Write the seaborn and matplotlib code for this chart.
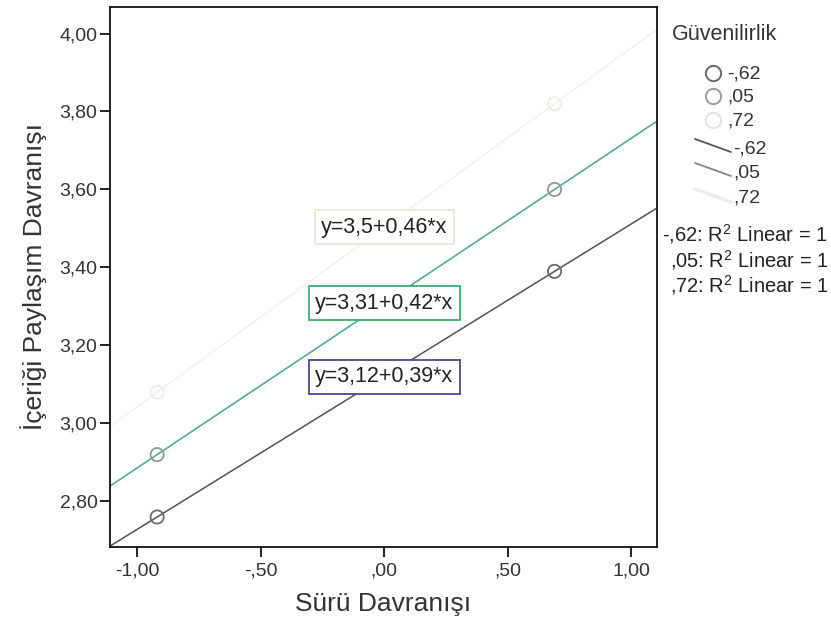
import numpy as np
import pandas as pd
import matplotlib
matplotlib.use("Agg")
import matplotlib.pyplot as plt
import seaborn as sns
from matplotlib.lines import Line2D

# ---- data ----
groups = ["-,62", ",05", ",72"]
x_points = [-0.92, 0.69]
y_low = [2.76, 3.39]
y_mid = [2.92, 3.60]
y_high = [3.08, 3.82]
equations = ["y=3,12+0,39*x", "y=3,31+0,42*x", "y=3,5+0,46*x"]
x_ticks = [-1.0, -0.5, 0.0, 0.5, 1.0]
x_tick_labels = ["-1,00", "-,50", ",00", ",50", "1,00"]
y_ticks = [2.8, 3.0, 3.2, 3.4, 3.6, 3.8, 4.0]
y_tick_labels = ["2,80", "3,00", "3,20", "3,40", "3,60", "3,80", "4,00"]
x_label = "Sürü Davranışı"
y_label = "İçeriği Paylaşım Davranışı"
legend_title = "Güvenilirlik"
r2_labels = ["-,62: R$^{2}$ Linear = 1", ",05: R$^{2}$ Linear = 1", ",72: R$^{2}$ Linear = 1"]

# ---- styles ----
line_colors = ["#505064", "#45a885", "#f1f1e8"]
marker_colors = ["#6a6a6a", "#8f9a94", "#ececE6"]
box_colors = ["#4a4a8c", "#3cb070", "#e6e6da"]
leg_marker_colors = ["#6a6a6a", "#9a9a9a", "#e2e2e2"]
leg_line_colors = ["#555555", "#858585", "#ececec"]

df = pd.DataFrame({
    "x": x_points * 3,
    "y": y_low + y_mid + y_high,
    "group": [g for g in groups for _ in x_points],
})

sns.set_theme(style="white")
plt.rcParams["font.family"] = ["Liberation Sans", "DejaVu Sans"]
plt.rcParams["mathtext.fontset"] = "custom"
plt.rcParams["mathtext.rm"] = "Liberation Sans"
plt.rcParams["mathtext.it"] = "Liberation Sans"

W, H = 831, 639
fig = plt.figure(figsize=(W / 100, H / 100), dpi=100)
ax = fig.add_axes([110 / W, 1 - 547 / H, (657 - 110) / W, (547 - 7) / H])
ax.set_xlim(-1.111, 1.105)
ax.set_ylim(2.683, 4.068)

for i in [2, 1, 0]:
    g = groups[i]
    sub = df[df["group"] == g]
    sns.regplot(data=sub, x="x", y="y", ax=ax, scatter=False, ci=None,
                truncate=False, line_kws=dict(color=line_colors[i], lw=1.1, zorder=2))
    sns.scatterplot(data=sub, x="x", y="y", ax=ax, marker="o", s=90,
                    facecolor="none", edgecolor=marker_colors[i], linewidth=1.3,
                    legend=False, zorder=3)
    slope, intercept = np.polyfit(sub["x"], sub["y"], 1)
    ax.text(0.0, intercept, equations[i], ha="center", va="center", fontsize=15.5,
            color="#222222", zorder=4,
            bbox=dict(boxstyle="square,pad=0.3", fc="white", ec=box_colors[i], lw=1.3))

ax.set_xlim(-1.111, 1.105)
ax.set_ylim(2.683, 4.068)
ax.set_xticks(x_ticks)
ax.set_xticklabels(x_tick_labels)
ax.set_yticks(y_ticks)
ax.set_yticklabels(y_tick_labels)
ax.tick_params(axis="both", direction="out", length=7.5, width=1.3, colors="#111111",
               labelsize=14, labelcolor="#333333")
ax.tick_params(axis="y", pad=1.5, left=True)
ax.tick_params(axis="x", pad=3.5, bottom=True)
ax.set_xlabel(x_label, fontsize=19, color="#333333", labelpad=9)
ax.set_ylabel(y_label, fontsize=19, color="#333333", labelpad=9)
for sp in ax.spines.values():
    sp.set_color("#111111")
    sp.set_linewidth(1.3)

# ---- legend (drawn manually on figure) ----
def fx(px):
    return px / W

def fy(py):
    return 1 - py / H

fig.text(fx(672), fy(34), legend_title, ha="left", va="center", fontsize=15.5, color="#333333")
marker_y = [73, 96, 120]
for i, g in enumerate(groups):
    fig.add_artist(Line2D([fx(713)], [fy(marker_y[i])], marker="o", markersize=11,
                          markerfacecolor="none", markeredgecolor=leg_marker_colors[i],
                          markeredgewidth=1.4, linestyle="none", transform=fig.transFigure))
    fig.text(fx(727), fy(marker_y[i] + 1), g, ha="left", va="center", fontsize=14, color="#333333")

line_y = [(139, 152), (163, 176), (189, 202)]
line_text_y = [149, 173, 198]
for i, g in enumerate(groups):
    y0, y1 = line_y[i]
    fig.add_artist(Line2D([fx(695), fx(731)], [fy(y0), fy(y1)], color=leg_line_colors[i],
                          lw=1.3 if i < 2 else 2.5, transform=fig.transFigure))
    fig.text(fx(733), fy(line_text_y[i]), g, ha="left", va="center", fontsize=14, color="#333333")

r2_y = [234, 260, 285]
for i, t in enumerate(r2_labels):
    fig.text(fx(828), fy(r2_y[i]), t, ha="right", va="center", fontsize=14.5, color="#222222")

fig.savefig("out.png", dpi=100, facecolor="white")
